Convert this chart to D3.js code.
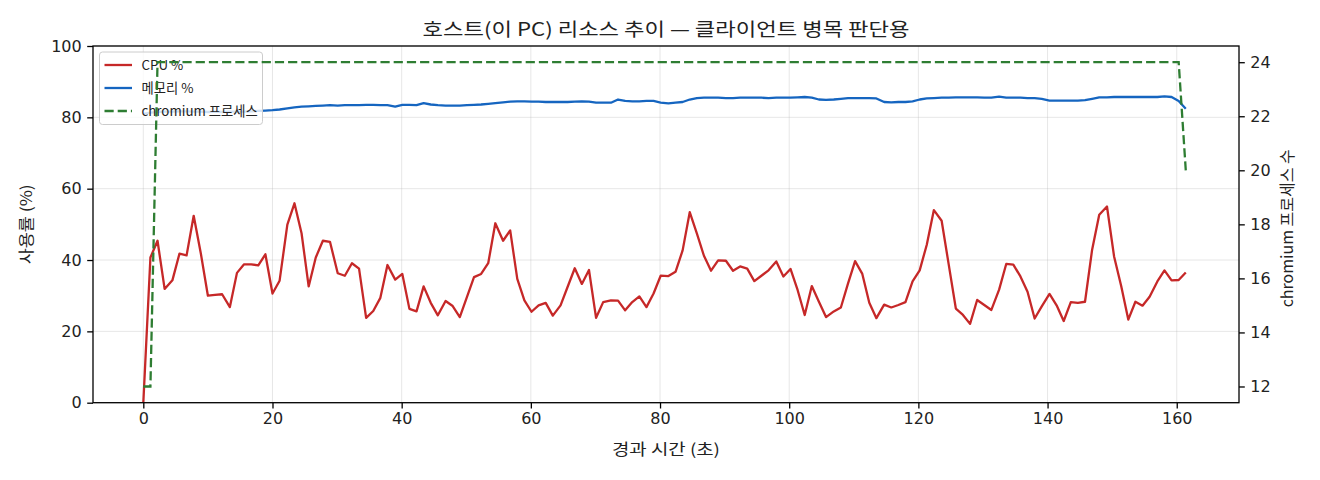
<!DOCTYPE html>
<html><head><meta charset="utf-8">
<script src="https://cdn.jsdelivr.net/npm/d3@7"></script>
<style>
html,body{margin:0;padding:0;background:#fff;}
svg text{font-family:"Noto Sans CJK KR","Noto Sans",sans-serif;fill:#222;}
</style></head>
<body>
<svg id="chart" width="1320" height="480"></svg>
<script>
// ---- data ----
const seconds = [
 0.0,1.1,2.2,3.3,4.5,5.6,6.7,7.8,8.9,10.0,
 11.1,12.2,13.4,14.5,15.6,16.7,17.8,18.9,20.0,21.1,
 22.3,23.4,24.5,25.6,26.7,27.8,28.9,30.1,31.2,32.3,
 33.4,34.5,35.6,36.7,37.8,39.0,40.1,41.2,42.3,43.4,
 44.5,45.6,46.8,47.9,49.0,50.1,51.2,52.3,53.4,54.5,
 55.7,56.8,57.9,59.0,60.1,61.2,62.3,63.4,64.6,65.7,
 66.8,67.9,69.0,70.1,71.2,72.4,73.5,74.6,75.7,76.8,
 77.9,79.0,80.1,81.3,82.4,83.5,84.6,85.7,86.8,87.9,
 89.0,90.2,91.3,92.4,93.5,94.6,95.7,96.8,98.0,99.1,
 100.2,101.3,102.4,103.5,104.6,105.7,106.9,108.0,109.1,110.2,
 111.3,112.4,113.5,114.7,115.8,116.9,118.0,119.1,120.2,121.3,
 122.4,123.6,124.7,125.8,126.9,128.0,129.1,130.2,131.3,132.5,
 133.6,134.7,135.8,136.9,138.0,139.1,140.3,141.4,142.5,143.6,
 144.7,145.8,146.9,148.0,149.2,150.3,151.4,152.5,153.6,154.7,
 155.8,157.0,158.1,159.2,160.3,161.4
];
const cpuPct = [
 0,40.7,45.4,31.9,34.3,41.8,41.3,52.4,41.9,30.0,
 30.2,30.4,26.8,36.4,38.8,38.8,38.5,41.6,30.6,34.2,
 49.9,55.9,47.5,32.6,40.7,45.4,45.1,36.3,35.6,39.1,
 37.6,23.8,25.7,29.4,38.6,34.5,36.1,26.3,25.6,32.6,
 28.0,24.5,28.5,27.1,24.0,29.6,35.2,36.1,39.1,50.3,
 45.4,48.3,34.7,28.7,25.5,27.3,28.0,24.4,27.3,32.5,
 37.7,33.3,37.2,23.8,28.2,28.7,28.6,25.9,28.2,29.8,
 26.8,30.6,35.6,35.5,36.7,42.7,53.4,47.5,41.2,37.0,
 39.9,39.8,37.0,38.2,37.6,34.1,35.6,37.1,39.6,35.4,
 37.5,31.6,24.6,32.7,28.3,24.0,25.6,26.7,33.4,39.7,
 36.2,28.0,23.7,27.5,26.7,27.4,28.2,34.0,37.1,44.3,
 54.0,51.0,38.7,26.4,24.6,22.1,28.8,27.4,26.0,31.7,
 38.9,38.7,35.4,31.1,23.6,27.0,30.5,27.3,22.9,28.2,
 28.0,28.3,42.9,52.7,55.0,41.0,32.7,23.3,28.3,27.2,
 29.7,34.0,37.1,34.3,34.4,36.5
];
const memPct = [
 81.0,81.3,81.5,81.6,81.6,81.7,81.7,81.6,81.6,81.5,
 81.6,81.5,81.6,81.6,81.6,81.7,81.8,81.9,82.0,82.2,
 82.5,82.8,83.0,83.1,83.2,83.3,83.4,83.3,83.4,83.4,
 83.4,83.5,83.5,83.4,83.4,83.0,83.5,83.5,83.4,84.0,
 83.6,83.4,83.3,83.3,83.3,83.4,83.5,83.6,83.8,84.0,
 84.2,84.4,84.5,84.5,84.4,84.4,84.3,84.3,84.3,84.3,
 84.4,84.5,84.4,84.1,84.1,84.1,85.0,84.6,84.5,84.5,
 84.6,84.6,84.1,83.9,84.1,84.3,85.0,85.4,85.5,85.5,
 85.5,85.4,85.4,85.5,85.5,85.5,85.5,85.4,85.5,85.5,
 85.5,85.6,85.7,85.5,85.0,84.9,85.0,85.2,85.4,85.4,
 85.4,85.4,85.3,84.3,84.2,84.3,84.3,84.5,85.0,85.3,
 85.4,85.5,85.5,85.6,85.6,85.6,85.6,85.5,85.5,85.8,
 85.5,85.5,85.5,85.4,85.4,85.2,84.7,84.7,84.7,84.7,
 84.7,84.8,85.2,85.6,85.6,85.7,85.7,85.7,85.7,85.7,
 85.7,85.7,85.9,85.7,84.6,82.4
];
const chromiumCount = [
 12,12,24,24,24,24,24,24,24,24,
 24,24,24,24,24,24,24,24,24,24,
 24,24,24,24,24,24,24,24,24,24,
 24,24,24,24,24,24,24,24,24,24,
 24,24,24,24,24,24,24,24,24,24,
 24,24,24,24,24,24,24,24,24,24,
 24,24,24,24,24,24,24,24,24,24,
 24,24,24,24,24,24,24,24,24,24,
 24,24,24,24,24,24,24,24,24,24,
 24,24,24,24,24,24,24,24,24,24,
 24,24,24,24,24,24,24,24,24,24,
 24,24,24,24,24,24,24,24,24,24,
 24,24,24,24,24,24,24,24,24,24,
 24,24,24,24,24,24,24,24,24,24,
 24,24,24,24,24,20
];
const xTicks = [0,20,40,60,80,100,120,140,160];
const yTicksLeft = [0,20,40,60,80,100];
const yTicksRight = [12,14,16,18,20,22,24];
const titleText = "호스트(이 PC) 리소스 추이 — 클라이언트 병목 판단용";
const xLabel = "경과 시간 (초)";
const yLabelLeft = "사용률 (%)";
const yLabelRight = "chromium 프로세스 수";
const seriesNames = ["CPU %","메모리 %","chromium 프로세스"];
const colors = {cpu:"#c62828", mem:"#1565c0", chr:"#2e7d32"};

// ---- layout ----
const L = 93, R = 1239, T = 46, B = 402.7;
const svg = d3.select("#chart");
const x = d3.scaleLinear().domain([-7.79, 169.64]).range([L, R]);
const yL = d3.scaleLinear().domain([0, 100]).range([B, T]);
const yR = d3.scaleLinear().domain([11.4, 24.6]).range([B, T]);

// grid
const grid = svg.append("g").attr("stroke","#b0b0b0").attr("stroke-opacity",0.3).attr("stroke-width",1);
xTicks.forEach(v => grid.append("line").attr("x1",x(v)).attr("x2",x(v)).attr("y1",T).attr("y2",B));
yTicksLeft.forEach(v => grid.append("line").attr("x1",L).attr("x2",R).attr("y1",yL(v)).attr("y2",yL(v)));

const idx = d3.range(seconds.length);
const lineCpu = d3.line().x(i => x(seconds[i])).y(i => yL(cpuPct[i]));
const lineMem = d3.line().x(i => x(seconds[i])).y(i => yL(memPct[i]));
const lineChr = d3.line().x(i => x(seconds[i])).y(i => yR(chromiumCount[i]));

svg.append("path").attr("d", lineCpu(idx)).attr("fill","none").attr("stroke",colors.cpu).attr("stroke-width",2.3).attr("stroke-linejoin","round");
svg.append("path").attr("d", lineMem(idx)).attr("fill","none").attr("stroke",colors.mem).attr("stroke-width",2.3).attr("stroke-linejoin","round");

// legend (belongs to left axes, under twin axes line)
const lg = svg.append("g");
lg.append("rect").attr("x",99.5).attr("y",52).attr("width",163).attr("height",72.5).attr("rx",3)
  .attr("fill","#fff").attr("fill-opacity",0.8).attr("stroke","#cccccc").attr("stroke-width",1);
const legendRows = [
  {name:seriesNames[0], color:colors.cpu, dash:null},
  {name:seriesNames[1], color:colors.mem, dash:null},
  {name:seriesNames[2], color:colors.chr, dash:"9.2,4"}
];
legendRows.forEach((d,k) => {
  const yy = 65 + k*23;
  const ln = lg.append("line").attr("x1",104.5).attr("x2",132).attr("y1",yy).attr("y2",yy)
    .attr("stroke",d.color).attr("stroke-width",2.3);
  if (d.dash) ln.attr("stroke-dasharray",d.dash);
  lg.append("text").attr("x",141.5).attr("y",yy).attr("dy","0.35em").attr("font-size",13.3).text(d.name);
});

// twin-axis line on top
svg.append("path").attr("d", lineChr(idx)).attr("fill","none").attr("stroke",colors.chr).attr("stroke-width",2.3)
  .attr("stroke-dasharray","9.2,4");

// axes
const fs = 16;
const axB = svg.append("g").attr("transform",`translate(0,${B})`)
  .call(d3.axisBottom(x).tickValues(xTicks).tickSize(5.8).tickPadding(4.5).tickFormat(d3.format("d")));
const axL = svg.append("g").attr("transform",`translate(${L},0)`)
  .call(d3.axisLeft(yL).tickValues(yTicksLeft).tickSize(5.8).tickPadding(5.5).tickFormat(d3.format("d")));
const axR = svg.append("g").attr("transform",`translate(${R},0)`)
  .call(d3.axisRight(yR).tickValues(yTicksRight).tickSize(5.8).tickPadding(5.5).tickFormat(d3.format("d")));
[axB,axL,axR].forEach(a => {
  a.select(".domain").remove();
  a.selectAll(".tick line").attr("stroke","#000").attr("stroke-width",1.3);
  a.selectAll(".tick text").attr("font-size",fs).attr("fill","#222")
   .style("font-family",'"DejaVu Sans","Noto Sans",sans-serif');
});
// spines
svg.append("rect").attr("x",L).attr("y",T).attr("width",R-L).attr("height",B-T)
  .attr("fill","none").attr("stroke","#000").attr("stroke-width",1.3);

// labels
svg.append("text").attr("x",(L+R)/2).attr("y",36).attr("text-anchor","middle").attr("font-size",18.5)
  .attr("textLength",487).attr("lengthAdjust","spacingAndGlyphs").text(titleText);
svg.append("text").attr("x",(L+R)/2).attr("y",455).attr("text-anchor","middle").attr("font-size",15.5)
  .attr("textLength",108).attr("lengthAdjust","spacingAndGlyphs").text(xLabel);
svg.append("text").attr("transform",`translate(32,${(T+B)/2}) rotate(-90)`).attr("text-anchor","middle").attr("font-size",15.5)
  .attr("textLength",80).attr("lengthAdjust","spacingAndGlyphs").text(yLabelLeft);
svg.append("text").attr("transform",`translate(1288,${(T+B)/2 + 4}) rotate(-90)`).attr("text-anchor","middle").attr("dy","0.35em").attr("font-size",15.5)
  .attr("textLength",158).attr("lengthAdjust","spacingAndGlyphs").text(yLabelRight);
</script>
</body></html>
